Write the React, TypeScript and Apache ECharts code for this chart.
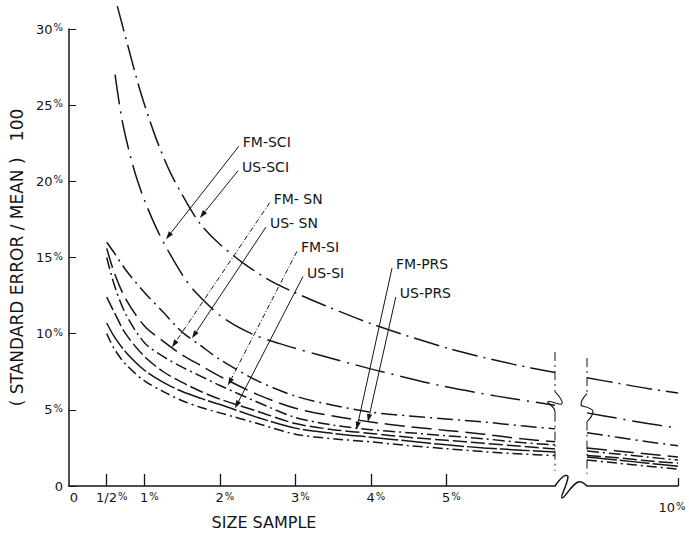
import React, { useEffect, useRef } from "react";
import * as echarts from "echarts";

// ---------- data ----------
const breakLeftX = 6.44;
const breakRightX = 8.8;

const xTickValues = [0, 0.5, 1, 2, 3, 4, 5];
const xTickLabels = ["0", "1/2%", "1%", "2%", "3%", "4%", "5%"];
const xTickValuesRight = [10];
const xTickLabelsRight = ["10%"];

// top two curves (own x positions)
const usSciX = [0.64, 0.78, 0.94, 1.14, 1.34, 1.56, 1.74, 1.97, 2.29, 2.66, 2.99, 3.39, 4.09, 5.05, 5.88, 6.44];
const usSciY = [31.5, 28.9, 26.0, 23.0, 20.6, 18.6, 17.2, 16.0, 14.7, 13.5, 12.7, 11.85, 10.5, 9.0, 8.0, 7.45];
const fmSciX = [0.61, 0.72, 0.91, 1.17, 1.51, 1.7, 2.04, 2.44, 2.89, 3.28, 3.76, 4.15, 4.91, 5.67, 6.44];
const fmSciY = [27.0, 23.6, 20.0, 16.8, 13.8, 12.6, 11.05, 9.95, 9.2, 8.65, 8.0, 7.5, 6.6, 5.9, 5.3];

// lower cluster (shared x positions)
const clusterX = [0.5, 0.6, 0.75, 1.0, 1.25, 1.5, 1.75, 2.0, 2.5, 3.0, 3.5, 4.0, 4.5, 5.0, 5.5, 6.0, 6.44];
const usSnY = [16.0, 15.3, 14.2, 12.7, 11.4, 10.1, 9.2, 8.3, 6.9, 5.9, 5.3, 4.85, 4.6, 4.4, 4.2, 3.95, 3.75];
const fmSnY = [15.6, 14.0, 12.3, 10.5, 9.5, 8.6, 7.9, 7.2, 6.0, 5.1, 4.6, 4.2, 3.9, 3.65, 3.4, 3.1, 2.9];
const fmSiY = [15.0, 13.2, 11.3, 9.4, 8.5, 7.8, 7.2, 6.6, 5.5, 4.5, 4.0, 3.7, 3.5, 3.3, 3.1, 2.85, 2.7];
const usPrsY = [12.4, 11.4, 10.0, 8.5, 7.5, 6.8, 6.2, 5.7, 4.9, 4.1, 3.7, 3.45, 3.2, 3.0, 2.8, 2.6, 2.43];
const usSiY = [10.7, 9.8, 8.8, 7.6, 6.8, 6.2, 5.75, 5.35, 4.5, 3.8, 3.45, 3.2, 2.95, 2.7, 2.5, 2.35, 2.24];
const fmPrsY = [10.0, 9.0, 8.0, 6.9, 6.2, 5.6, 5.15, 4.8, 4.1, 3.4, 3.1, 2.9, 2.65, 2.45, 2.25, 2.1, 2.0];

// right of the axis break
const rightX = [8.8, 9.2, 9.6, 10];
const usSciRightY = [7.1, 6.75, 6.4, 6.1];
const fmSciRightY = [4.8, 4.45, 4.1, 3.8];
const usSnRightY = [3.5, 3.2, 2.9, 2.65];
const fmSnRightY = [2.5, 2.3, 2.1, 1.9];
const fmSiRightY = [2.3, 2.1, 1.9, 1.7];
const usPrsRightY = [2.0, 1.85, 1.65, 1.5];
const usSiRightY = [1.9, 1.7, 1.5, 1.3];
const fmPrsRightY = [1.7, 1.5, 1.3, 1.1];

// annotations
const annoLabels = ["FM-SCI", "US-SCI", "FM- SN", "US- SN", "FM-SI", "US-SI", "FM-PRS", "US-PRS"];
const annoStartX = [2.25, 2.24, 2.66, 2.61, 3.02, 3.1, 4.28, 4.33];
const annoStartY = [22.3, 20.7, 18.6, 17.0, 15.4, 13.75, 14.3, 12.4];
const annoTipX = [1.285, 1.735, 1.364, 1.63, 2.106, 2.2, 3.81, 3.96];
const annoTipY = [16.2, 17.6, 9.1, 9.7, 6.6, 5.1, 3.7, 4.2];
const annoDashed = [false, false, true, false, true, false, false, false];

const FONT = "'DejaVu Sans', 'Liberation Sans', sans-serif";
const INK = "#151515";

const zip = (xs: number[], ys: number[]) => xs.map((x, i) => [x, ys[i]]);

function App() {
  const ref = useRef<HTMLDivElement>(null);

  useEffect(() => {
    if (!ref.current) return;
    const chart = echarts.init(ref.current, null, { renderer: "svg" });

    const curves = [
      { name: "US-SCI", l: zip(usSciX, usSciY), r: zip(rightX, usSciRightY), dash: [26, 6, 2, 6] },
      { name: "FM-SCI", l: zip(fmSciX, fmSciY), r: zip(rightX, fmSciRightY), dash: [30, 7, 2, 7] },
      { name: "US-SN", l: zip(clusterX, usSnY), r: zip(rightX, usSnRightY), dash: [16, 5, 2, 5] },
      { name: "FM-SN", l: zip(clusterX, fmSnY), r: zip(rightX, fmSnRightY), dash: [20, 7] },
      { name: "FM-SI", l: zip(clusterX, fmSiY), r: zip(rightX, fmSiRightY), dash: [12, 4, 2, 4] },
      { name: "US-PRS", l: zip(clusterX, usPrsY), r: zip(rightX, usPrsRightY), dash: [14, 4] },
      { name: "US-SI", l: zip(clusterX, usSiY), r: zip(rightX, usSiRightY), dash: [30, 3] },
      { name: "FM-PRS", l: zip(clusterX, fmPrsY), r: zip(rightX, fmPrsRightY), dash: [10, 4, 2, 4] },
    ];

    const series: any[] = [];
    curves.forEach((c) => {
      [0, 1].forEach((i) => {
        series.push({
          type: "line",
          name: c.name,
          data: i === 0 ? c.l : c.r,
          xAxisIndex: i,
          yAxisIndex: i,
          showSymbol: false,
          symbol: "none",
          smooth: 0.3,
          clip: false,
          silent: true,
          lineStyle: { color: INK, width: 1.5, type: c.dash },
        });
      });
    });

    const rich = {
      n: { fontFamily: FONT, fontSize: 13, color: INK },
      p: { fontFamily: FONT, fontSize: 10, color: INK, verticalAlign: "top", padding: [0, 0, 3, 1] },
    };
    const pctFmt = (s: string) =>
      s.endsWith("%") ? `{n|${s.slice(0, -1)}}{p|%}` : `{n|${s}}`;

    const option: any = {
      animation: false,
      backgroundColor: "#ffffff",
      grid: [
        { left: 69, top: 29, bottom: 49, width: 486, containLabel: false },
        { left: 587, top: 29, bottom: 49, right: 11, containLabel: false },
      ],
      xAxis: [
        {
          type: "value",
          gridIndex: 0,
          min: 0,
          max: breakLeftX,
          axisLine: { show: true, lineStyle: { color: INK, width: 1.5 } },
          axisTick: { show: true, inside: true, length: 12, customValues: xTickValues.slice(1), lineStyle: { color: INK, width: 1.3 } },
          axisLabel: {
            customValues: xTickValues,
            margin: 5,
            padding: [0, 0, 0, 10],
            formatter: (v: number) => pctFmt(xTickLabels[xTickValues.indexOf(v)] ?? ""),
            rich,
          },
          splitLine: { show: false },
        },
        {
          type: "value",
          gridIndex: 1,
          min: breakRightX,
          max: 10,
          axisLine: { show: true, lineStyle: { color: INK, width: 1.5 } },
          axisTick: { show: true, inside: true, length: 8, customValues: xTickValuesRight, lineStyle: { color: INK, width: 1.3 } },
          axisLabel: {
            customValues: xTickValuesRight,
            margin: 15,
            padding: [0, 12, 0, 0],
            formatter: (v: number) => pctFmt(xTickLabelsRight[xTickValuesRight.indexOf(v)] ?? ""),
            rich,
          },
          splitLine: { show: false },
        },
      ],
      yAxis: [
        {
          type: "value",
          gridIndex: 0,
          min: 0,
          max: 30,
          interval: 5,
          name: "( STANDARD ERROR / MEAN )   100",
          nameLocation: "middle",
          nameGap: 40,
          nameTextStyle: { fontFamily: FONT, fontSize: 17, color: INK },
          axisLine: { show: true, lineStyle: { color: INK, width: 1.5 } },
          axisTick: { show: true, inside: true, length: 7, lineStyle: { color: INK, width: 1 } },
          axisLabel: {
            margin: 6,
            formatter: (v: number) => (v === 0 ? "{n|0}" : `{n|${v}}{p|%}`),
            rich,
          },
          splitLine: { show: false },
        },
        {
          type: "value",
          gridIndex: 1,
          min: 0,
          max: 30,
          interval: 5,
          show: false,
          splitLine: { show: false },
        },
      ],
      series,
    };

    chart.setOption(option);

    const P = (g: number, x: number, y: number) =>
      chart.convertToPixel({ gridIndex: g }, [x, y]) as number[];

    const graphics: any[] = [];

    // annotation arrows and labels
    annoLabels.forEach((label, i) => {
      const s = P(0, annoStartX[i], annoStartY[i]);
      const t = P(0, annoTipX[i], annoTipY[i]);
      const dx = t[0] - s[0];
      const dy = t[1] - s[1];
      const len = Math.hypot(dx, dy);
      const ux = dx / len;
      const uy = dy / len;
      const hl = 8;
      const hw = 2.6;
      const bx = t[0] - ux * hl;
      const by = t[1] - uy * hl;
      graphics.push({
        type: "line",
        silent: true,
        shape: { x1: s[0], y1: s[1], x2: bx, y2: by },
        style: { stroke: INK, lineWidth: 1, lineDash: annoDashed[i] ? [5, 2, 1, 2] : null },
      });
      graphics.push({
        type: "polygon",
        silent: true,
        shape: {
          points: [
            [t[0], t[1]],
            [bx - uy * hw, by + ux * hw],
            [bx + uy * hw, by - ux * hw],
          ],
        },
        style: { fill: INK },
      });
      graphics.push({
        type: "text",
        silent: true,
        x: s[0] + 4,
        y: s[1] - 4,
        style: {
          text: label,
          fontFamily: FONT,
          fontSize: 14,
          fill: INK,
          align: "left",
          verticalAlign: "middle",
        },
      });
    });

    // axis break on the x axis
    const a0 = P(0, breakLeftX, 0);
    const a1 = P(1, breakRightX, 0);
    graphics.push({
      type: "polyline",
      silent: true,
      shape: {
        points: [
          [a0[0], a0[1]],
          [a0[0] + 9, a0[1] - 10],
          [a0[0] + 13, a0[1] - 9],
          [a0[0] + 7, a0[1] + 12],
          [a0[0] + 23, a0[1] - 4],
          [a1[0], a1[1]],
        ],
        smooth: 0.45,
      },
      style: { stroke: INK, lineWidth: 1.5, fill: null },
    });

    // vertical break marks through the curves
    const lt = P(0, breakLeftX, 8.8);
    const ls = P(0, breakLeftX, 5.8);
    const lb = P(0, breakLeftX, 1.0);
    graphics.push({
      type: "line",
      silent: true,
      shape: { x1: lt[0], y1: lt[1], x2: ls[0], y2: ls[1] - 6 },
      style: { stroke: INK, lineWidth: 1, lineDash: [9, 4, 2, 4] },
    });
    graphics.push({
      type: "polyline",
      silent: true,
      shape: {
        points: [
          [ls[0], ls[1] - 6],
          [ls[0] + 7, ls[1] + 6],
          [ls[0] - 7, ls[1] + 4],
          [ls[0] - 1, ls[1] + 11],
          [ls[0], ls[1] + 15],
        ],
        smooth: 0.5,
      },
      style: { stroke: INK, lineWidth: 1.1, fill: null },
    });
    graphics.push({
      type: "line",
      silent: true,
      shape: { x1: ls[0], y1: ls[1] + 15, x2: lb[0], y2: lb[1] },
      style: { stroke: INK, lineWidth: 1, lineDash: [9, 4, 2, 4] },
    });

    const rt = P(1, breakRightX, 8.4);
    const rs = P(1, breakRightX, 5.8);
    const rb = P(1, breakRightX, 0.8);
    graphics.push({
      type: "line",
      silent: true,
      shape: { x1: rt[0], y1: rt[1], x2: rs[0], y2: rs[1] - 4 },
      style: { stroke: INK, lineWidth: 1, lineDash: [9, 4, 2, 4] },
    });
    graphics.push({
      type: "polyline",
      silent: true,
      shape: {
        points: [
          [rs[0], rs[1] - 4],
          [rs[0] - 6, rs[1] + 7],
          [rs[0] + 1, rs[1] + 10],
          [rs[0] + 6, rs[1] + 14],
          [rs[0], rs[1] + 24],
        ],
        smooth: 0.5,
      },
      style: { stroke: INK, lineWidth: 1.1, fill: null },
    });
    graphics.push({
      type: "line",
      silent: true,
      shape: { x1: rs[0], y1: rs[1] + 24, x2: rb[0], y2: rb[1] },
      style: { stroke: INK, lineWidth: 1, lineDash: [9, 4, 2, 4] },
    });

    // x axis title
    graphics.push({
      type: "text",
      silent: true,
      x: 264,
      y: 522,
      style: {
        text: "SIZE SAMPLE",
        fontFamily: FONT,
        fontSize: 16,
        fill: INK,
        align: "center",
        verticalAlign: "middle",
      },
    });

    chart.setOption({ graphic: graphics });

    return () => chart.dispose();
  }, []);

  return (
    <div
      ref={ref}
      style={{ position: "fixed", left: 0, top: 0, width: 689, height: 535, background: "#fff" }}
    />
  );
}

export default App;
